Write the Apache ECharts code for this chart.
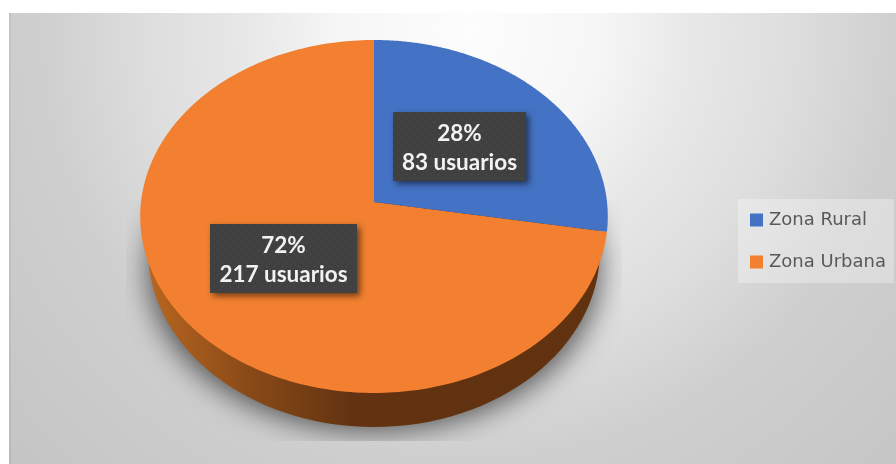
<!DOCTYPE html>
<html>
<head>
<meta charset="UTF-8">
<title>Zona Rural / Zona Urbana</title>
<script src="https://cdn.jsdelivr.net/npm/echarts@6/dist/echarts.min.js"></script>
<style>
  html, body { margin: 0; padding: 0; background: #fff; }
</style>
</head>
<body>
    <div id='container' style="width: 896px; height: 464px;"></div>
    <script type="text/javascript">
    // datos del grafico
    var zonas = ['Zona Rural', 'Zona Urbana'];
    var usuarios = [83, 217];
    var colores = ['#4472c4', '#f28030'];

    var total = usuarios[0] + usuarios[1];

    // perspectiva de la tarta: vertice, radios y grosor
    var cx = 374, cy = 202;
    var rx = 233, ry = 175.3, k = 0.082;

    // punto del borde (o a una fraccion r del radio) para un angulo desde las 12, sentido horario
    function punto(ang, r) {
        var u = Math.sin(ang) * r, v = -Math.cos(ang) * r;
        var d = 1 - k * v;
        return [cx + rx * u / d, cy + ry * v / d];
    }

    // trama de puntos de las etiquetas
    var trama = document.createElement('canvas');
    trama.width = 8;
    trama.height = 8;
    var tctx = trama.getContext('2d');
    tctx.fillStyle = '#404040';
    tctx.fillRect(0, 0, 8, 8);
    tctx.fillStyle = '#565656';
    tctx.fillRect(2, 2, 1, 1);
    tctx.fillRect(6, 6, 1, 1);

    function etiqueta(idx, medio) {
        var p = punto(medio, 0.495);
        var w = idx == 0 ? 133 : 147;
        var h = 69;
        var x = Math.round(p[0] - w / 2), y = Math.round(p[1] - h / 2) - 1;
        var pct = Math.round(usuarios[idx] / total * 100) + '%';
        var caja = {
            type: 'rect',
            shape: { x: x, y: y, width: w, height: h },
            style: {
                fill: { image: trama, repeat: 'repeat' },
                shadowBlur: 6, shadowOffsetX: 3, shadowOffsetY: 3,
                shadowColor: 'rgba(0,0,0,0.55)'
            }
        };
        var texto = {
            type: 'text',
            x: x + w / 2,
            y: y + h / 2 + 2,
            style: {
                text: pct + '\n' + usuarios[idx] + ' usuarios',
                fill: '#f2f2f2',
                font: 'bold 22.5px Lato',
                lineHeight: 29,
                align: 'center',
                verticalAlign: 'middle'
            }
        };
        return [caja, texto];
    }

    function renderZona(params, api) {
        var idx = params.seriesIndex;
        var valor = api.value(0);
        var previo = idx == 0 ? 0 : usuarios[0];
        var a0 = previo / total * Math.PI * 2;
        var a1 = (previo + valor) / total * Math.PI * 2;

        var pts = [[cx, cy]];
        for (var i = 0; i <= 240; i++) {
            pts.push(punto(a0 + (a1 - a0) * i / 240, 1));
        }
        var hijos = [];
        if (idx == 1) {
            // sombra recortada (la elipse queda fuera del lienzo, solo se ve su sombra) y pared lateral
            hijos.push({
                type: 'ellipse',
                shape: { cx: 374 - 2000, cy: 268, rx: 226, ry: 163 },
                style: {
                    fill: '#000',
                    shadowBlur: 28, shadowOffsetX: 2000, shadowColor: 'rgba(0,0,0,0.6)'
                },
                clipPath: { type: 'rect', shape: { x: 126, y: 200, width: 496, height: 241 } }
            });
            hijos.push({
                type: 'ellipse',
                shape: { cx: 374, cy: 250, rx: 226, ry: 177 },
                style: {
                    fill: new echarts.graphic.LinearGradient(0, 0, 1, 0, [
                        { offset: 0, color: '#b8661f' },
                        { offset: 0.22, color: '#8a4a18' },
                        { offset: 0.45, color: '#633311' },
                        { offset: 1, color: '#613210' }
                    ])
                }
            });
        }
        hijos.push({
            type: 'polygon',
            shape: { points: pts },
            style: { fill: colores[idx] }
        });
        hijos = hijos.concat(etiqueta(idx, (a0 + a1) / 2));
        return { type: 'group', children: hijos };
    }

    var mychart = echarts.init(document.getElementById("container"), null, { renderer: 'canvas' });
    var option = {
        backgroundColor: '#ffffff',
        animation: false,
        graphic: [{
            type: 'rect',
            z: 0,
            shape: { x: 9, y: 13, width: 887, height: 451 },
            style: {
                fill: new echarts.graphic.RadialGradient(470, 30, 620, [
                    { offset: 0, color: '#fdfdfd' },
                    { offset: 0.21, color: '#f6f6f6' },
                    { offset: 0.355, color: '#e8e8e8' },
                    { offset: 0.516, color: '#dedede' },
                    { offset: 0.69, color: '#cfcfcf' },
                    { offset: 1, color: '#c5c5c5' }
                ], true)
            }
        }, {
            type: 'rect',
            z: 0,
            shape: { x: 9, y: 13, width: 2, height: 451 },
            style: { fill: 'rgba(0,0,0,0.05)' }
        }],
        legend: {
            data: zonas,
            left: 738,
            top: 199,
            orient: 'vertical',
            icon: 'rect',
            itemWidth: 13,
            itemHeight: 13,
            itemGap: 24,
            padding: [12, 8, 12, 12],
            backgroundColor: 'rgba(255,255,255,0.3)',
            textStyle: { color: '#595959', fontFamily: 'DejaVu Sans', fontSize: 18, padding: [0, 0, 0, 1] }
        },
        series: [
            {
                name: zonas[1], type: 'custom', coordinateSystem: 'none', z: 2,
                itemStyle: { color: colores[1] },
                renderItem: function (params, api) { return renderZona({ seriesIndex: 1 }, api); },
                data: [[usuarios[1]]]
            },
            {
                name: zonas[0], type: 'custom', coordinateSystem: 'none', z: 3,
                itemStyle: { color: colores[0] },
                renderItem: function (params, api) { return renderZona({ seriesIndex: 0 }, api); },
                data: [[usuarios[0]]]
            }
        ]
    };
    mychart.setOption(option);
    </script>
</body>
</html>
